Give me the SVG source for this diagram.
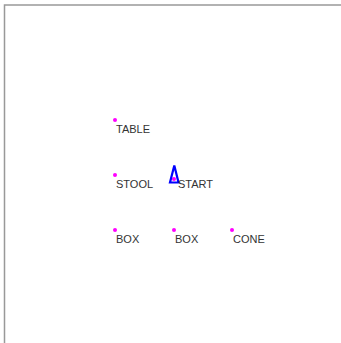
<svg xmlns="http://www.w3.org/2000/svg" width="341" height="343" viewBox="0 0 341 343">
<style>
.lbl{font-family:"Liberation Sans",Arial,sans-serif;font-size:11px;fill:#333}
.dot{fill:#f0f}
</style>
<rect width="341" height="343" fill="#fff"/>
<path d="M4.5,343 V5 H341" fill="none" stroke="#999" stroke-width="1.5"/>
<g id="table"><circle class="dot" cx="115" cy="120" r="2"/><text class="lbl" x="116" y="133">TABLE</text></g>
<g id="stool"><circle class="dot" cx="115" cy="175" r="2"/><text class="lbl" x="116" y="188">STOOL</text></g>
<g id="start"><circle class="dot" cx="174" cy="179" r="2"/><polygon points="174.3,165.5 170,182.5 178.5,182.5" fill="none" stroke="#00f" stroke-width="2.2"/><text class="lbl" x="178" y="188">START</text></g>
<g id="box1"><circle class="dot" cx="115" cy="230" r="2"/><text class="lbl" x="116" y="243">BOX</text></g>
<g id="box2"><circle class="dot" cx="174" cy="230" r="2"/><text class="lbl" x="175" y="243">BOX</text></g>
<g id="cone"><circle class="dot" cx="232" cy="230" r="2"/><text class="lbl" x="233" y="243">CONE</text></g>
<g id="connectors"/>
</svg>
